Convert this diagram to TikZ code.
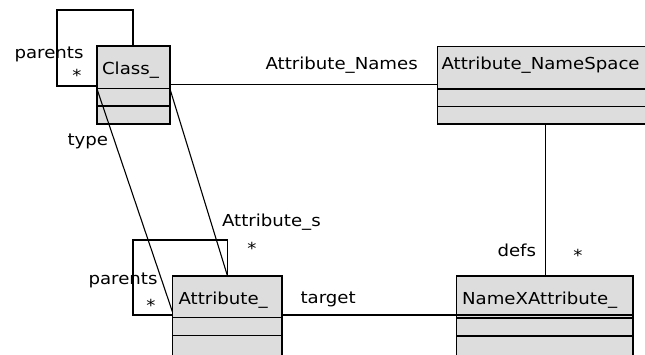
\documentclass[tikz,border=0pt]{standalone}
\usepackage{fontspec}
\setmainfont[FakeStretch=1.1]{DejaVu Sans}
\definecolor{boxfill}{RGB}{221,221,221}
\begin{document}
\begin{tikzpicture}[x=1pt,y=-1pt,line width=1.1pt,
  classbox/.style={draw=black,fill=boxfill,rectangle,anchor=north west,inner sep=0pt,outer sep=0pt},
  lbl/.style={anchor=base west,inner sep=0pt,font=\fontsize{16.5}{18}\selectfont},
  starlbl/.style={anchor=base,inner sep=0pt,font=\fontsize{16.5}{18}\selectfont},
  conn/.style={draw=black,line width=1.1pt}]
\useasboundingbox (0,0) rectangle (645,354);
\clip (0,0) rectangle (645,354);
\fill[white] (0,0) rectangle (645,354);

% class boxes
\node[classbox,minimum width=73pt,minimum height=78pt] (cls) at (97,46) {};
\node[classbox,minimum width=230pt,minimum height=77.5pt] (ns) at (437.5,46.5) {};
\node[classbox,minimum width=109.5pt,minimum height=100pt] (attr) at (172.5,276) {};
\node[classbox,minimum width=176.5pt,minimum height=100pt] (nx) at (456.5,276) {};

% compartments
\draw ([yshift=-42.5pt]cls.north west) -- ([yshift=-42.5pt]cls.north east);
\draw ([yshift=-60pt]cls.north west) -- ([yshift=-60pt]cls.north east);
\draw ([yshift=-42.5pt]ns.north west) -- ([yshift=-42.5pt]ns.north east);
\draw ([yshift=-60pt]ns.north west) -- ([yshift=-60pt]ns.north east);
\draw ([yshift=-41.5pt]attr.north west) -- ([yshift=-41.5pt]attr.north east);
\draw ([yshift=-59.5pt]attr.north west) -- ([yshift=-59.5pt]attr.north east);
\draw ([yshift=-39pt]nx.north west) -- ([yshift=-39pt]nx.north east);
\draw ([yshift=-42pt]nx.north west) -- ([yshift=-42pt]nx.north east);
\draw ([yshift=-60pt]nx.north west) -- ([yshift=-60pt]nx.north east);

% class names
\node[lbl] (clsname) at (101.5,74.5) {Class\_};
\node[lbl] (nsname) at (441,69.5) {Attribute\_NameSpace};
\node[lbl] (attrname) at (178,304) {Attribute\_};
\node[lbl] (nxname) at (461.5,304) {NameXAttribute\_};

% connector end points
\coordinate (c1) at ([yshift=-38.5pt]cls.north east);
\coordinate (tA) at ([yshift=-43pt]cls.north west);
\coordinate (tB) at ([yshift=-36pt]attr.north west);
\coordinate (sA) at ([yshift=-43pt]cls.north east);
\coordinate (sB) at ([xshift=55pt]attr.north west);
\coordinate (lc1) at ([yshift=-40pt]cls.north west);
\coordinate (lc2) at ([xshift=36pt]cls.north west);
\coordinate (la1) at ([yshift=-39pt]attr.north west);
\coordinate (g1) at ([yshift=-39pt]attr.north east);
\coordinate (d1) at ([xshift=108pt]ns.south west);

% connectors
\draw[conn] (c1) -- (c1 -| ns.west);
\draw[conn] (tA) -- (tB);
\draw[conn] (sA) -- (sB);
\draw[conn] (lc1) -- ++(-40,0) -- ++(0,-76) -| (lc2);
\draw[conn] (la1) -- ++(-39.5,0) -- ++(0,-75) -| (sB);
\draw[conn] (g1) -- (g1 -| nx.west);
\draw[conn] (d1) -- (d1 |- nx.north);

% role labels
\node[lbl] (lparC) at (14,58) {parents};
\node[starlbl] (starC) at (77,81) {*};
\node[lbl] (lnames) at (265,69.5) {Attribute\_Names};
\node[lbl] (ltype) at (67,145.5) {type};
\node[lbl] (lattrs) at (221.5,226.5) {Attribute\_s};
\node[starlbl] (starS) at (252,254) {*};
\node[lbl] (lparA) at (88,284) {parents};
\node[starlbl] (starA) at (151,311) {*};
\node[lbl] (ltarget) at (300,303) {target};
\node[lbl] (ldefs) at (497,256.5) {defs};
\node[starlbl] (starD) at (578,261) {*};
\end{tikzpicture}
\end{document}
